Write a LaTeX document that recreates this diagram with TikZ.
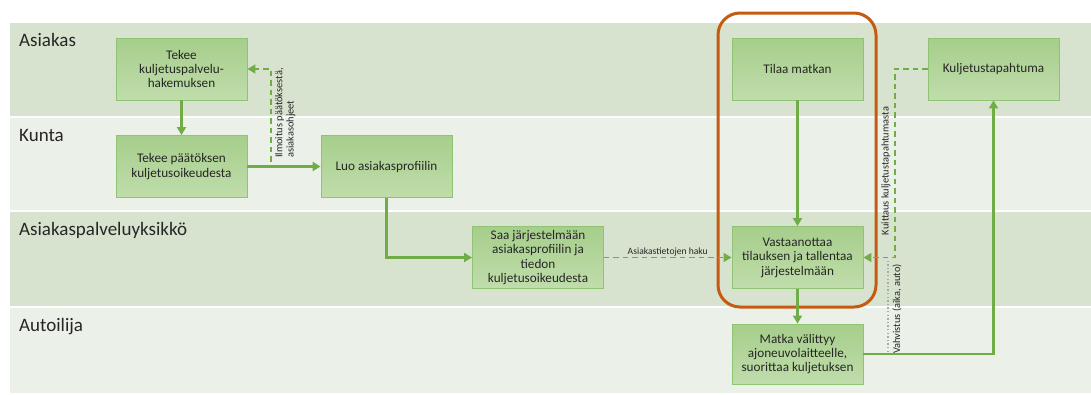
\documentclass[tikz,border=0pt]{standalone}
\usepackage{fontspec}
\setmainfont{Carlito}
\usetikzlibrary{arrows.meta}

\definecolor{laneDark}{HTML}{D7E3CE}
\definecolor{laneLight}{HTML}{EBF0E8}
\definecolor{boxTop}{HTML}{A6CE8B}
\definecolor{boxBot}{HTML}{C0DDAB}
\definecolor{boxEdge}{HTML}{8EC472}
\definecolor{flowGreen}{HTML}{70AD47}
\definecolor{focusOrange}{HTML}{C55A11}
\definecolor{txt}{HTML}{262626}
\definecolor{dotGrey}{HTML}{A5ADA2}

\tikzset{
  proc/.style={draw=boxEdge, line width=0.9pt, top color=boxTop, bottom color=boxBot,
    minimum width=131pt, minimum height=62pt, align=center, inner sep=2pt,
    text=txt, font=\fontsize{13.2}{14.4}\selectfont},
  lanelabel/.style={anchor=base west, inner sep=0pt, text=txt, font=\fontsize{19}{21}\selectfont},
  flow/.style={draw=flowGreen, line width=2.2pt, -{Triangle[length=8pt,width=9pt]}},
  dflow/.style={draw=flowGreen, line width=1.7pt, dash pattern=on 5.5pt off 4pt,
    -{Triangle[length=8pt,width=9pt]}},
  dotline/.style={draw=dotGrey, line width=1.5pt, dash pattern=on 1.4pt off 2.2pt},
  smalllabel/.style={inner sep=1pt, text=txt, font=\fontsize{10.4}{11.2}\selectfont},
}

\begin{document}
\begin{tikzpicture}[x=1pt,y=-1pt]
\useasboundingbox (0,0) rectangle (1091,394);
\fill[white] (0,0) rectangle (1091,394);

% swimlanes
\fill[laneDark]  (10,23)  rectangle (1091,116);
\fill[laneLight] (10,118) rectangle (1091,210);
\fill[laneDark]  (10,212) rectangle (1091,306);
\fill[laneLight] (10,308) rectangle (1091,393);

\node[lanelabel] (l1) at (19,46)  {Asiakas};
\node[lanelabel] (l2) at (19,141) {Kunta};
\node[lanelabel] (l3) at (19,235) {Asiakaspalveluyksikkö};
\node[lanelabel] (l4) at (19,331) {Autoilija};

% process steps
\node[proc] (a1) at (181.5,69)   {Tekee\\kuljetuspalvelu-\\hakemuksen};
\node[proc] (k1) at (181.5,166.5){Tekee päätöksen\\kuljetusoikeudesta};
\node[proc] (k2) at (386.5,166.5){Luo asiakasprofiilin};
\node[proc] (s1) at (538,257.5)  {Saa järjestelmään\\asiakasprofiilin ja\\tiedon\\kuljetusoikeudesta};
\node[proc] (a2) at (797.5,69)   {Tilaa matkan};
\node[proc] (s2) at (797.5,257.5){Vastaanottaa\\tilauksen ja tallentaa\\järjestelmään};
\node[proc] (a3) at (993.5,69)   {Kuljetustapahtuma};
\node[proc, minimum height=60pt] (d1) at (797.5,354) {Matka välittyy\\ajoneuvolaitteelle,\\suorittaa kuljetuksen};

% highlighted ordering step
\draw[focusOrange, line width=3pt, rounded corners=22pt] (718,13) rectangle (876,307);

% connectors
\draw[flow] (a1) -- (k1);
\draw[flow] (k1) -- (k2);
\coordinate (ilm) at (271,166.5);
\draw[dflow] (k1.east) -- (ilm) |- (a1.east);
\node[smalllabel, rotate=90, anchor=north west, align=left] (ilmlbl) at (274,159)
  {Ilmoitus päätöksestä,\\asiakasohjeet};

\draw[flow] (k2.south) |- (s1.west);
\draw[dflow] (s1) -- node[smalllabel, above, font=\fontsize{9.6}{10.5}\selectfont] (hak) {Asiakastietojen haku} (s2);
\draw[flow] (a2) -- (s2);
\draw[flow] (s2) -- (d1);
\draw[flow] (d1.east) -| (a3.south);

\coordinate (kui) at (895,257.5);
\draw[dflow] (a3.west) -| (kui) -- (s2.east);
\node[smalllabel, rotate=90] (kuilbl) at (886,171) {Kuittaus kuljetustapahtumasta};

\coordinate (vah1) at (888,352);
\coordinate (vah2) at (888,259);
\draw[dotline] (vah1) -- (vah2);
\node[smalllabel, rotate=90] (vahlbl) at (897,309) {Vahvistus (aika, auto)};
\end{tikzpicture}
\end{document}
